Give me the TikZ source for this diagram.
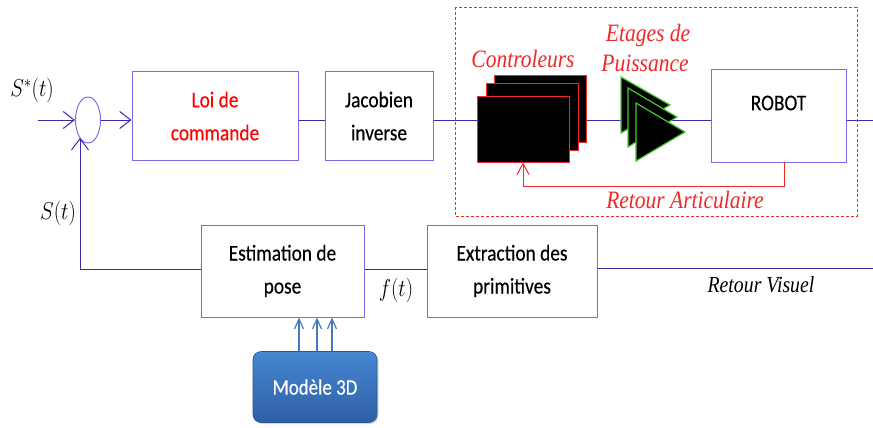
\documentclass[tikz,border=0pt]{standalone}
\usepackage{fontspec}
\newfontfamily\calibri[FakeStretch=0.86,FakeBold=0.3]{Carlito}
\newfontfamily\cambit[FakeStretch=0.86]{Liberation Serif}
\usetikzlibrary{arrows.meta,shapes.geometric,shadows}

\definecolor{boxcol}{RGB}{125,105,235}
\definecolor{linecol}{RGB}{60,40,170}
\definecolor{redc}{RGB}{240,40,40}
\definecolor{greenc}{RGB}{70,200,50}
\definecolor{modtop}{RGB}{70,135,210}
\definecolor{modbot}{RGB}{45,95,165}
\definecolor{modarr}{RGB}{70,120,190}

\newcommand{\tallmath}[1]{\scalebox{1}[1.18]{$#1$}}

\tikzset{
  blk/.style={draw=boxcol, line width=1pt, fill=white, align=center, inner sep=0pt,
              font=\calibri\fontsize{22.5}{33}\selectfont},
  lnk/.style={draw=linecol, line width=1pt},
  arr/.style={lnk, -{Straight Barb[length=11pt,width=17pt,line width=1pt]}},
  ctl/.style={draw=redc, fill=black, line width=1pt, minimum width=92pt, minimum height=66pt, inner sep=0pt},
  stage/.style={draw=greenc, fill=black, line width=1.2pt, line join=miter},
  fbk/.style={draw=redc, line width=1pt, -{Straight Barb[length=11pt,width=12pt,line width=1pt]}},
  redlbl/.style={text=redc, font=\cambit\itshape\fontsize{25}{28}\selectfont},
  mathlbl/.style={font=\fontsize{20}{24}\selectfont},
  marr/.style={draw=modarr, line width=1.2pt, -{Straight Barb[length=10pt,width=9pt,line width=1.2pt]}},
}

\begin{document}
\begin{tikzpicture}[x=1pt,y=-1pt]
\useasboundingbox (0,0) rectangle (873,428);

% dashed frame round the joint-level loop
\draw[redc, line width=0.8pt, dash pattern=on 3pt off 2pt] (455,7) rectangle (857,216);

% summing junction and forward blocks
\node[ellipse, draw=boxcol, line width=1pt, minimum width=25pt, minimum height=46pt, inner sep=0pt] (sum) at (88,120) {};
\node[blk, minimum width=166pt, minimum height=88pt, text=red] (loi) at (215,116) {Loi de\\commande};
\node[blk, minimum width=108pt, minimum height=88pt] (jac) at (379,116) {Jacobien\\inverse};
\node[blk, minimum width=135pt, minimum height=92pt] (robot) at (778.5,116) {};
\node[font=\calibri\fontsize{22.5}{26}\selectfont] (robotlbl) at (robot.center) [yshift=13pt] {ROBOT};

\coordinate (in) at (38,120);
\coordinate (out) at (873,120);
\draw[arr] (in) -- (sum.west);
\draw[arr] (sum.east) -- (sum.east -| loi.west);
\draw[lnk] (loi.east |- sum.east) -- (jac.west |- sum.east);
\draw[lnk] (jac.east |- sum.east) -- (robot.west |- sum.east);
\draw[lnk] (robot.east |- sum.east) -- (out);

% joint controllers (stacked)
\node[ctl] (c3) at (540,109) {};
\node[ctl] (c2) at (532,117) {};
\node[ctl] (c1) at (523,129) {};

% power stages
\draw[stage] (621,77) -- (670,105) -- (621,133) -- cycle;
\draw[stage] (628,88) -- (677,117) -- (628,147) -- cycle;
\draw[stage] (636,103) -- (685,132) -- (636,161) -- cycle;

% joint feedback
\coordinate (ra) at (784,162);
\draw[fbk] (ra) -- (784,186) -| (c1.south);

\node[redlbl] (lctl) at (523,59) {Controleurs};
\node[redlbl] (let1) at (648,35) {Etages de};
\node[redlbl] (let2) at (645,63) {Puissance};
\node[redlbl] (lart) at (685,200) {Retour Articulaire};

% visual feedback chain
\node[blk, minimum width=163pt, minimum height=92pt] (est) at (282.5,271) {Estimation de\\pose};
\node[blk, minimum width=170pt, minimum height=92pt] (ext) at (512,271) {Extraction des\\primitives};
\coordinate (vin) at (873,268);
\coordinate (fb) at (80,138);
\draw[lnk] (vin) -- (ext.east |- vin);
\draw[lnk] (ext.west |- 0,269) -- (est.east |- 0,269);
\draw[arr] (est.west |- 0,269) -| (fb);

\node[mathlbl] (sstar) at (32,90) {\tallmath{S^*(t)}};
\node[mathlbl] (sfb) at (58,213) {\tallmath{S(t)}};
\node[mathlbl] (ft) at (396,290) {\tallmath{f(t)}};
\node[font=\cambit\itshape\fontsize{23}{26}\selectfont] (lvis) at (761,285) {Retour Visuel};

% 3D model
\node[rounded corners=8pt, top color=modtop, bottom color=modbot, draw=modbot!90!black, line width=0.6pt,
      minimum width=124pt, minimum height=71pt, text=white, font=\calibri\fontsize{22}{26}\selectfont,
      drop shadow={shadow xshift=1.5pt, shadow yshift=-1.5pt, opacity=0.3}] (mod) at (315,387) {Modèle 3D};
\foreach \dx in {-16,2,17}
  \draw[marr] ([xshift=\dx pt]mod.north) -- ([xshift=\dx pt]mod.north |- est.south);
\end{tikzpicture}
\end{document}
